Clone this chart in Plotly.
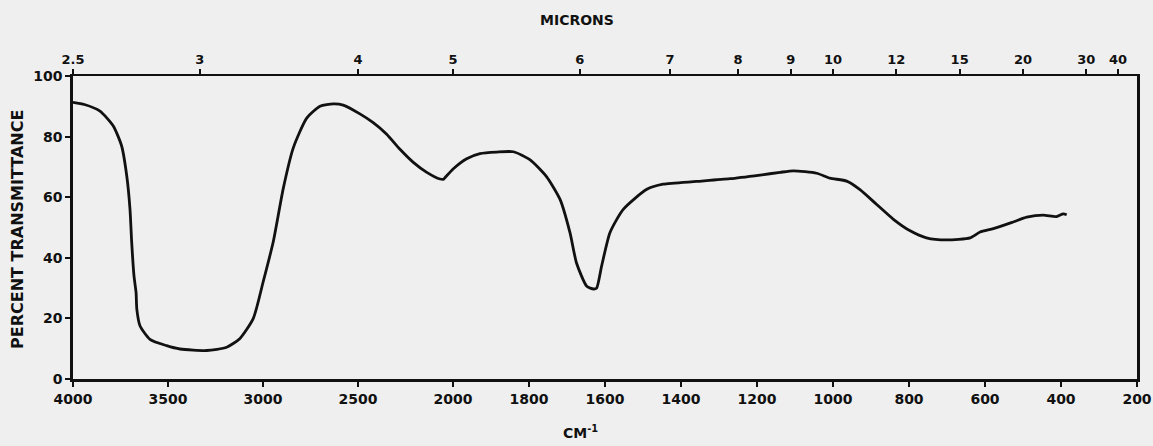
import numpy as np
import plotly.graph_objects as go

# Spectrum (wavenumber cm^-1, percent transmittance)
wavenumber = [4000, 3940, 3858, 3788, 3744, 3717, 3700, 3691, 3679, 3668, 3664, 3647, 3595, 3507,
              3437, 3296, 3191, 3121, 3051, 2999, 2946, 2893, 2841, 2770, 2700, 2630, 2578, 2490,
              2420, 2349, 2279, 2209, 2138, 2068, 2050, 2040, 1999, 1964, 1929, 1885, 1841, 1797,
              1754, 1718, 1692, 1675, 1648, 1630, 1622, 1609, 1587, 1552, 1490, 1447, 1359, 1271,
              1192, 1139, 1104, 1043, 1008, 964, 929, 885, 841, 797, 754, 701, 639, 613, 578, 526,
              490, 447, 412, 394, 385]
transmittance = [91.3, 90.6, 88.4, 83.5, 76.9, 67.0, 56.0, 45.0, 34.0, 28.5, 23.0, 17.5, 13.1, 11.0,
                 9.9, 9.4, 10.5, 13.4, 20.0, 32.1, 45.3, 63.0, 76.2, 86.1, 90.0, 90.8, 90.4, 87.5,
                 84.6, 80.8, 75.8, 71.5, 68.2, 66.0, 65.9, 66.6, 69.4, 72.7, 74.4, 74.9, 75.0, 72.3,
                 66.8, 59.2, 48.2, 38.3, 30.6, 29.7, 30.0, 37.2, 48.3, 56.0, 62.6, 64.3, 65.2, 66.1,
                 67.3, 68.2, 68.7, 67.9, 66.3, 65.3, 62.5, 57.6, 52.7, 48.9, 46.6, 45.9, 46.6, 48.5,
                 49.6, 51.8, 53.4, 54.1, 53.6, 54.5, 54.2]

# Axis labels
cm_ticks = [4000, 3500, 3000, 2500, 2000, 1800, 1600, 1400, 1200, 1000, 800, 600, 400, 200]
micron_ticks = [2.5, 3, 4, 5, 6, 7, 8, 9, 10, 12, 15, 20, 30, 40]
y_ticks = [0, 20, 40, 60, 80, 100]


def to_u(nu):
    """IR chart abscissa: scale doubles below 2000 cm^-1."""
    nu = np.asarray(nu, dtype=float)
    return np.where(nu >= 2000, (4000 - nu) / 2.0, 3000 - nu)


FONT = "DejaVu Sans"
INK = "#111111"
BG = "#efefef"

fig = go.Figure()
fig.add_trace(go.Scatter(x=to_u(wavenumber), y=transmittance, mode="lines",
                         line=dict(color=INK, width=2.8, shape="spline", smoothing=0.6),
                         hoverinfo="skip", showlegend=False))
# invisible trace for top axis
fig.add_trace(go.Scatter(x=[0, 2800], y=[0, 0], xaxis="x2", mode="lines",
                         line=dict(width=0), hoverinfo="skip", showlegend=False))

tickfont = dict(family=FONT, size=14, color=INK, weight="bold")

fig.update_layout(
    width=1153, height=446,
    margin=dict(l=73, r=16, t=76, b=67),
    paper_bgcolor=BG, plot_bgcolor=BG,
    font=dict(family=FONT, color=INK),
    xaxis=dict(range=[0, 2800], tickvals=to_u(cm_ticks).tolist(),
               ticktext=[str(v) for v in cm_ticks], tickfont=tickfont,
               ticks="outside", ticklen=5, tickwidth=2, tickcolor=INK,
               showline=True, linewidth=3, linecolor=INK, showgrid=False,
               zeroline=False, automargin=False),
    xaxis2=dict(range=[0, 2800], overlaying="x", side="top",
                tickvals=to_u(10000 / np.array(micron_ticks)).tolist(),
                ticktext=[f"{v:g}" for v in micron_ticks],
                tickfont=dict(family=FONT, size=13, color=INK, weight="bold"),
                ticks="outside", ticklen=5, tickwidth=2, tickcolor=INK,
                showline=True, linewidth=2, linecolor=INK, showgrid=False,
                zeroline=False, automargin=False),
    yaxis=dict(range=[0, 100], tickvals=y_ticks, ticktext=[str(v) for v in y_ticks],
               tickfont=tickfont, ticks="outside", ticklen=5, tickwidth=2, tickcolor=INK,
               showline=True, linewidth=2.5, linecolor=INK, mirror=True,
               showgrid=False, zeroline=False, automargin=False),
    annotations=[
        dict(text="MICRONS", xref="paper", yref="paper", x=(577 - 73) / 1064, y=(379 - 20) / 303,
             showarrow=False, xanchor="center", yanchor="middle",
             font=dict(family=FONT, size=14, color=INK, weight="bold")),
        dict(text="CM<sup>-1</sup>", xref="paper", yref="paper", x=(580 - 73) / 1064, y=(379 - 432) / 303,
             showarrow=False, xanchor="center", yanchor="middle",
             font=dict(family=FONT, size=14, color=INK, weight="bold")),
        dict(text="PERCENT TRANSMITTANCE", xref="paper", yref="paper", x=(18 - 73) / 1064,
             y=(379 - 230) / 303, textangle=-90, showarrow=False,
             xanchor="center", yanchor="middle",
             font=dict(family=FONT, size=16, color=INK, weight="bold")),
    ],
)

fig.write_html("out.html")
